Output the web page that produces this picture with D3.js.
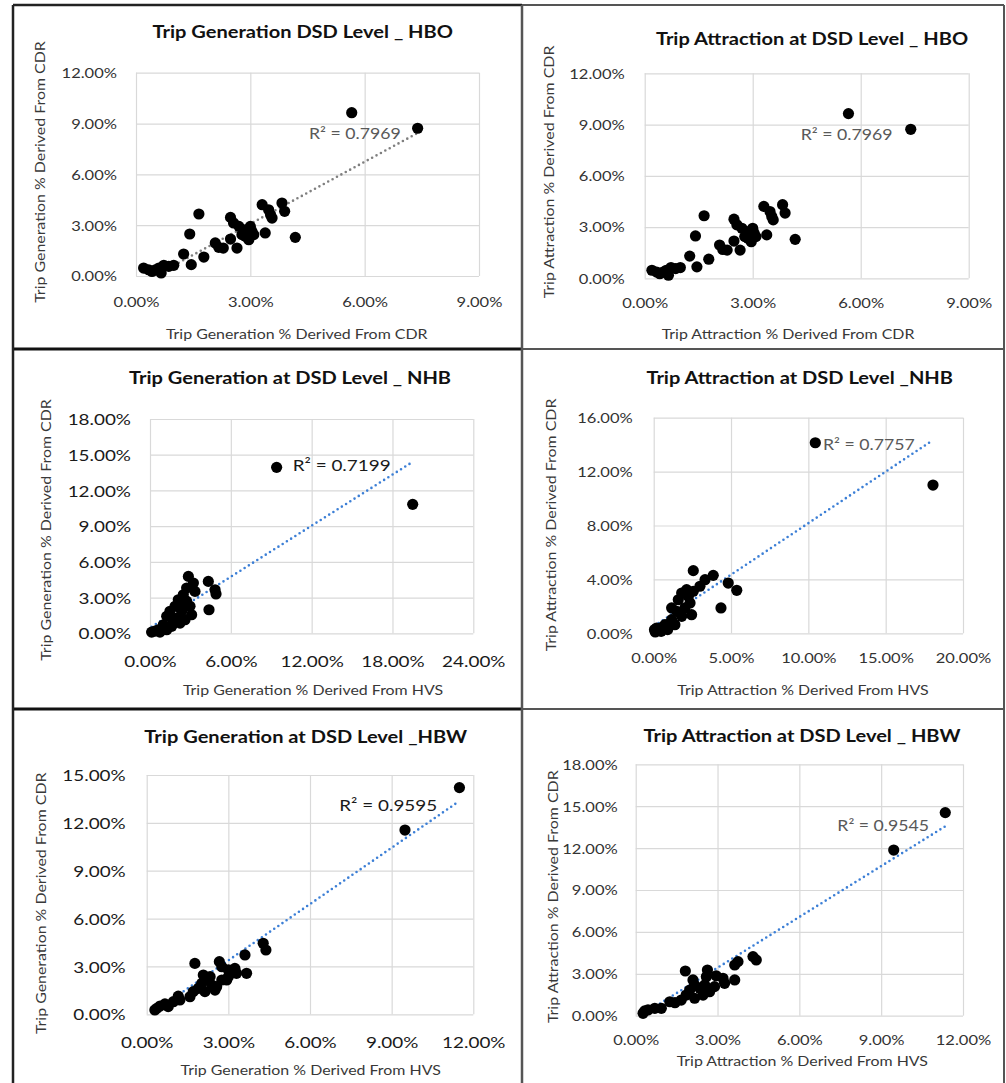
<!DOCTYPE html>
<html><head><meta charset="utf-8">
<script src="https://cdn.jsdelivr.net/npm/d3@7"></script>
<style>
body{margin:0;background:#fff}
svg{display:block}
text{font-family:Lato,'Open Sans',sans-serif}
</style>
</head><body>
<svg id="c" width="1006" height="1083"></svg>
<script>
// ---------------- DATA (values in %) ----------------
// HBO (generation and attraction charts show the same points)
const hboX = [5.66,7.39,1.65,1.41,1.25,1.45,1.78,0.20,0.33,0.51,0.66,0.73,0.86,0.99,0.60,0.42,2.08,2.17,2.29,2.48,2.65,2.48,2.56,2.70,2.83,2.87,2.96,3.04,3.00,2.78,3.09,3.31,3.48,3.57,3.53,3.39,3.83,3.90,4.18];
const hboY = [9.64,8.72,3.66,2.48,1.30,0.67,1.12,0.47,0.37,0.37,0.18,0.63,0.57,0.63,0.47,0.27,1.95,1.69,1.65,2.18,1.65,3.46,3.13,2.93,2.73,2.34,2.14,2.64,2.93,2.44,2.44,4.21,3.91,3.42,3.62,2.54,4.31,3.82,2.28];
const hboGenTrend = [[0.20,-0.34],[7.39,8.44]];

// NHB generation
const nhbGenX = [9.40,19.50,2.85,3.22,2.72,4.33,4.83,4.90,4.38,3.34,2.47,2.10,2.72,2.97,1.86,2.35,1.48,1.24,1.98,2.60,1.73,0.99,1.24,0.62,0.12,0.37,0.74,1.61,2.23,2.23,3.09];
const nhbGenY = [13.94,10.83,4.78,4.22,3.80,4.36,3.66,3.30,1.98,3.52,3.24,2.82,2.70,2.27,2.27,1.85,1.85,1.43,1.28,1.14,0.86,0.72,0.30,0.30,0.10,0.19,0.10,0.59,0.86,2.40,1.56];
const nhbGenTrend = [[0.12,0.55],[19.50,14.40]];

// NHB attraction
const nhbAttX = [10.45,18.06,2.56,3.85,3.32,4.82,5.37,4.35,2.99,2.13,2.56,1.81,2.24,1.59,2.35,2.02,1.16,1.49,2.45,1.81,1.16,0.73,0.41,0.05,0.10,0.48,0.90,1.37,0.19];
const nhbAttY = [14.14,11.00,4.65,4.30,3.98,3.73,3.19,1.88,3.49,3.24,3.12,2.99,2.74,2.49,2.25,1.88,1.88,1.63,1.38,1.26,1.01,0.64,0.39,0.27,0.10,0.15,0.27,0.64,0.39];
const nhbAttTrend = [[0.05,0.56],[18.06,14.34]];

// HBW generation
const hbwGenX = [11.49,9.49,1.77,2.67,2.76,3.00,3.24,3.30,3.67,3.61,4.28,4.38,2.08,2.20,2.02,2.39,2.57,2.76,2.94,3.00,1.90,1.71,2.14,2.51,1.59,1.16,0.98,0.67,0.49,0.30,0.37,0.79,1.22,2.33];
const hbwGenY = [14.21,11.55,3.19,3.30,2.98,2.78,2.88,2.57,2.57,3.72,4.45,4.03,2.46,2.15,1.94,1.84,1.73,2.15,2.15,2.36,1.63,1.42,1.42,1.52,1.10,1.14,0.79,0.65,0.52,0.27,0.37,0.48,0.90,2.36];
const hbwGenTrend = [[0.30,0.20],[11.49,13.37]];

// HBW attraction
const hbwAttX = [11.35,9.46,1.82,2.63,2.59,2.95,3.20,3.26,3.63,3.63,3.75,4.30,4.42,2.10,2.16,2.35,1.98,2.89,2.71,2.47,1.85,1.67,2.16,1.25,0.94,0.70,0.45,0.27,0.33,1.44,2.53];
const hbwAttY = [14.54,11.86,3.20,3.27,2.79,2.86,2.68,2.32,2.56,3.63,3.87,4.23,3.99,2.56,2.20,1.96,1.84,2.08,1.72,1.48,1.48,1.12,1.25,1.00,0.53,0.53,0.41,0.17,0.34,0.93,2.20];
const hbwAttTrend = [[0.27,0.12],[11.35,13.56]];

// Tick values
const ticks0to9 = [0,3,6,9];
const ticks0to12 = [0,3,6,9,12];
const ticks0to15 = [0,3,6,9,12,15];
const ticks0to18 = [0,3,6,9,12,15,18];
const ticks0to24 = [0,6,12,18,24];
const ticks0to16 = [0,4,8,12,16];
const ticks0to20 = [0,5,10,15,20];

// Texts
const titles = ["Trip Generation DSD Level _ HBO","Trip Attraction at DSD Level _ HBO","Trip Generation at DSD Level _ NHB","Trip Attraction at DSD Level _NHB","Trip Generation at DSD Level _HBW","Trip Attraction at DSD Level _ HBW"];
const xTitles = ["Trip Generation % Derived From CDR","Trip Attraction % Derived From CDR","Trip Generation % Derived From HVS","Trip Attraction % Derived From HVS","Trip Generation % Derived From HVS","Trip Attraction % Derived From HVS"];
const yTitles = ["Trip Generation % Derived From CDR","Trip Attraction % Derived From CDR","Trip Generation % Derived From CDR","Trip Attraction % Derived From CDR","Trip Generation % Derived From CDR","Trip Attraction % Derived From CDR"];
const r2Labels = ["R\u00B2 = 0.7969","R\u00B2 = 0.7969","R\u00B2 = 0.7199","R\u00B2 = 0.7757","R\u00B2 = 0.9595","R\u00B2 = 0.9545"];

// ---------------- LAYOUT ----------------
const SX = 1.18; // horizontal text stretch
const GRAY = "#595959", DARK = "#1a1a1a", TICK = "#333";
const panels = [
 {xs:hboX, ys:hboY, trend:hboGenTrend, trendColor:"#7f7f7f", xt:ticks0to9, yt:ticks0to12,
  plot:{l:136,r:479,t:72.7,b:276}, title:[302.7,31.7], yT:[40,172], xT:[296.7,334.3], xDy:25.7, yGap:19,
  r2:[309,133.3], tick:14, tickColor:TICK, r2Size:15, r2Color:GRAY},
 {xs:hboX, ys:hboY, trend:null, xt:ticks0to9, yt:ticks0to12,
  plot:{l:644.7,r:968.7,t:73.3,b:278.3}, title:[812,39], yT:[549.7,172], xT:[788,334], xDy:24.4, yGap:20,
  r2:[800.7,135], tick:14, tickColor:TICK, r2Size:15, r2Color:GRAY},
 {xs:nhbGenX, ys:nhbGenY, trend:nhbGenTrend, trendColor:"#3c7fd6", xt:ticks0to24, yt:ticks0to18,
  plot:{l:150,r:473.3,t:419,b:633.3}, title:[290,378.3], yT:[46.7,530], xT:[313,690.7], xDy:27.7, yGap:19,
  r2:[292.7,465], tick:16, tickColor:DARK, r2Size:16, r2Color:DARK},
 {xs:nhbAttX, ys:nhbAttY, trend:nhbAttTrend, trendColor:"#3c7fd6", xt:ticks0to20, yt:ticks0to16,
  plot:{l:653.7,r:963,t:417.7,b:633.3}, title:[799.7,378.3], yT:[551.3,525], xT:[803,690.7], xDy:25, yGap:21,
  r2:[823,444.3], tick:14, tickColor:TICK, r2Size:15, r2Color:GRAY},
 {xs:hbwGenX, ys:hbwGenY, trend:hbwGenTrend, trendColor:"#3c7fd6", xt:ticks0to12, yt:ticks0to15,
  plot:{l:146.7,r:473.3,t:775,b:1014.3}, title:[305.7,736.7], yT:[41.7,903.3], xT:[310.7,1070], xDy:28.4, yGap:21,
  r2:[339.3,805.7], tick:16, tickColor:DARK, r2Size:16, r2Color:DARK},
 {xs:hbwAttX, ys:hbwAttY, trend:hbwAttTrend, trendColor:"#3c7fd6", xt:ticks0to12, yt:ticks0to18,
  plot:{l:635.7,r:963,t:764.3,b:1015.7}, title:[802,736], yT:[553,896.7], xT:[802.3,1061.7], xDy:24.3, yGap:18,
  r2:[837.3,825.7], tick:14, tickColor:TICK, r2Size:15, r2Color:GRAY}
];

const svg = d3.select("#c");
svg.append("rect").attr("width",1006).attr("height",1083).attr("fill","#fff");
const fmt = d => d3.format(".2f")(d) + "%";

function txt(g, x, y, s, o){
  return g.append("text")
    .attr("transform", `translate(${x},${y})${o.rot ? " rotate(-90)" : ""} scale(${SX},1)`)
    .attr("text-anchor", o.anchor || "middle")
    .attr("dy", "0.35em")
    .style("font-size", o.size + "px")
    .style("font-weight", o.bold ? 700 : 400)
    .attr("fill", o.color)
    .text(s);
}

panels.forEach((p, i) => {
  const P = p.plot, W = P.r - P.l, H = P.b - P.t;
  const g = svg.append("g");
  const x = d3.scaleLinear().domain([p.xt[0], p.xt[p.xt.length-1]]).range([P.l, P.r]);
  const y = d3.scaleLinear().domain([p.yt[0], p.yt[p.yt.length-1]]).range([P.b, P.t]);

  // y axis + horizontal gridlines
  const ya = g.append("g").attr("transform", `translate(${P.l},0)`)
    .call(d3.axisLeft(y).tickValues(p.yt).tickSize(-W).tickPadding(p.yGap).tickFormat(fmt));
  // x axis + vertical gridlines
  const xa = g.append("g").attr("transform", `translate(0,${P.b})`)
    .call(d3.axisBottom(x).tickValues(p.xt).tickSize(-H).tickPadding(p.xDy).tickFormat(fmt));
  [ya, xa].forEach(a => {
    a.select(".domain").remove();
    a.attr("font-family", null).attr("font-size", null);
    a.selectAll("line").attr("stroke", "#d9d9d9").attr("stroke-width", 1.2);
  });
  ya.selectAll("text").each(function(){
    const t = d3.select(this), tx = +t.attr("x");
    t.attr("x", 0).attr("dy", "0.35em").attr("transform", `translate(${tx},0) scale(${SX},1)`)
     .style("font-size", p.tick + "px").attr("fill", p.tickColor);
  });
  xa.selectAll("text").each(function(){
    const t = d3.select(this), ty = +t.attr("y");
    t.attr("y", 0).attr("dy", "0.35em").attr("transform", `translate(0,${ty}) scale(${SX},1)`)
     .style("font-size", p.tick + "px").attr("fill", p.tickColor);
  });

  // trendline
  if (p.trend){
    const cid = "clip" + i;
    g.append("clipPath").attr("id", cid).append("rect")
      .attr("x", P.l).attr("y", P.t).attr("width", W).attr("height", H);
    g.append("line").attr("clip-path", `url(#${cid})`)
      .attr("x1", x(p.trend[0][0])).attr("y1", y(p.trend[0][1]))
      .attr("x2", x(p.trend[1][0])).attr("y2", y(p.trend[1][1]))
      .attr("stroke", p.trendColor).attr("stroke-width", 2.6)
      .attr("stroke-linecap", "round").attr("stroke-dasharray", "0 5");
  }

  // points
  g.append("g").selectAll("circle").data(p.xs.map((v, k) => [v, p.ys[k]])).join("circle")
    .attr("cx", d => x(d[0])).attr("cy", d => y(d[1])).attr("r", 5.6).attr("fill", "#000");

  // texts
  txt(g, p.title[0], p.title[1], titles[i], {size:17, bold:true, color:"#111"});
  txt(g, p.xT[0], p.xT[1], xTitles[i], {size:13.5, color:"#383838"});
  txt(g, p.yT[0], p.yT[1], yTitles[i], {size:13.5, color:"#383838", rot:true});
  txt(g, p.r2[0], p.r2[1], r2Labels[i], {size:p.r2Size, color:p.r2Color, anchor:"start"});
});

// panel frames
const fr = svg.append("g").attr("fill", "none");
const lines = [
  {x1:13,y1:5,x2:522,y2:5,c:"#222",w:2.5},
  {x1:522,y1:5,x2:1004,y2:5,c:"#555",w:2},
  {x1:13,y1:349,x2:522,y2:349,c:"#111",w:3},
  {x1:522,y1:349,x2:1004,y2:349,c:"#555",w:2},
  {x1:13,y1:709,x2:522,y2:709,c:"#111",w:3},
  {x1:522,y1:709,x2:1004,y2:709,c:"#555",w:2},
  {x1:13,y1:5,x2:13,y2:1083,c:"#222",w:2.5},
  {x1:522,y1:5,x2:522,y2:1083,c:"#555",w:2.5},
  {x1:1004,y1:5,x2:1004,y2:1083,c:"#555",w:2}
];
fr.selectAll("line").data(lines).join("line")
  .attr("x1", d => d.x1).attr("y1", d => d.y1).attr("x2", d => d.x2).attr("y2", d => d.y2)
  .attr("stroke", d => d.c).attr("stroke-width", d => d.w);
</script>
</body></html>
